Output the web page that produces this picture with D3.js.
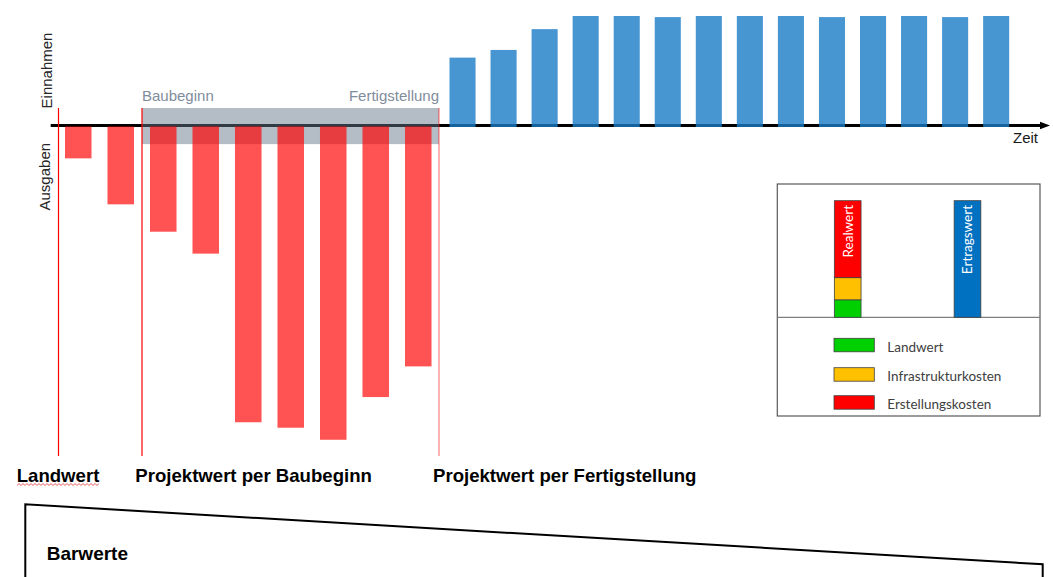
<!DOCTYPE html>
<html>
<head>
<meta charset="utf-8">
<script src="https://cdn.jsdelivr.net/npm/d3@7"></script>
<style>
  html, body { margin: 0; padding: 0; background: #fff; }
  svg { display: block; }
</style>
</head>
<body>
<svg id="chart" width="1053" height="577"></svg>
<script>
// Zahlungsströme je Periode: Ausgaben (Bauphase) und Einnahmen (Betriebsphase)
const ausgabenPerioden = ["A1", "A2", "A3", "A4", "A5", "A6", "A7", "A8", "A9"];
const ausgaben = [-30, -72, -97, -117, -271, -276, -287, -248, -220];

const einnahmenPerioden = ["E1", "E2", "E3", "E4", "E5", "E6", "E7", "E8", "E9", "E10", "E11", "E12", "E13", "E14"];
const einnahmen = [62, 69, 88, 100, 100, 99, 100, 100, 100, 99, 100, 100, 99, 100];

// Meilensteine (Periode, vor der die Markierung liegt)
const meilensteine = ["Baubeginn", "Fertigstellung"];
const wertLabels = ["Landwert", "Projektwert per Baubeginn", "Projektwert per Fertigstellung"];

// Legende: Zusammensetzung des Realwerts und Ertragswert
const legendeKategorien = ["Landwert", "Infrastrukturkosten", "Erstellungskosten"];
const legendeFarben = ["#00D000", "#FFC000", "#FF0000"];
const realwertAnteile = [15, 19, 66];
const balkenTitel = ["Realwert", "Ertragswert"];
const ertragswert = [100];

const FONT = "'Liberation Sans', Arial, sans-serif";
const FONT_LEG = "Lato, 'Open Sans', sans-serif";

const svg = d3.select("#chart");

// ---------- Skalen ----------
const xA = d3.scaleBand().domain(ausgabenPerioden).range([57, 439.5])
  .paddingInner(0.376).paddingOuter(0.188);
const xE = d3.scaleBand().domain(einnahmenPerioden).range([442, 1016.7])
  .paddingInner(0.365).paddingOuter(0.1825);
const y = d3.scaleLinear().domain([0, 100]).range([125.5, 16]);

const gapA = (xA.step() - xA.bandwidth()) / 2;
const xLandwert = xA(ausgabenPerioden[0]) - gapA + 1.5;
const xBaubeginn = xA(ausgabenPerioden[2]) - gapA;
const xFertig = xA.range()[1] - 0.5;

// ---------- Bauphase-Band (grau) ----------
svg.append("line")
  .attr("x1", 50.7).attr("x2", 1041)
  .attr("y1", y(0)).attr("y2", y(0))
  .attr("stroke", "#000").attr("stroke-width", 3);

svg.append("rect")
  .attr("x", xBaubeginn)
  .attr("y", y(16))
  .attr("width", xFertig - xBaubeginn)
  .attr("height", y(-17) - y(16))
  .attr("fill", "rgb(102,118,139)")
  .attr("fill-opacity", 0.49);

// ---------- Ausgaben ----------
svg.append("g").selectAll("rect")
  .data(ausgaben)
  .join("rect")
  .attr("x", (d, i) => xA(ausgabenPerioden[i]))
  .attr("y", y(0) + 1)
  .attr("width", xA.bandwidth())
  .attr("height", d => y(d) - y(0) - 1)
  .attr("fill", "#FF0000")
  .attr("fill-opacity", 0.68);

// ---------- Einnahmen ----------
svg.append("g").selectAll("rect")
  .data(einnahmen)
  .join("rect")
  .attr("x", (d, i) => xE(einnahmenPerioden[i]))
  .attr("y", d => y(d))
  .attr("width", xE.bandwidth())
  .attr("height", d => y(0) + 1.5 - y(d))
  .attr("fill", "rgb(25,124,199)")
  .attr("fill-opacity", 0.8);

// Pfeilspitze der Zeitachse
svg.append("path")
  .attr("d", `M1040,${y(0) - 3.8} L1050,${y(0)} L1040,${y(0) + 3.8} Z`)
  .attr("fill", "#000");

svg.append("text")
  .attr("x", 1013).attr("y", 142.7)
  .attr("font-family", FONT).attr("font-size", 15)
  .attr("fill", "#1a1a1a")
  .text("Zeit");

// ---------- Meilenstein-Linien ----------
const linien = [
  { x: xLandwert, op: 1 },
  { x: xBaubeginn, op: 1 },
  { x: xFertig, op: 0.5 }
];
svg.append("g").selectAll("line")
  .data(linien)
  .join("line")
  .attr("x1", d => d.x).attr("x2", d => d.x)
  .attr("y1", 108).attr("y2", 456)
  .attr("stroke", "#FF0000")
  .attr("stroke-opacity", d => d.op)
  .attr("stroke-width", 1.2);

// Meilenstein-Beschriftungen
svg.append("text")
  .attr("x", xBaubeginn).attr("y", 100.7)
  .attr("font-family", FONT).attr("font-size", 15)
  .attr("fill", "#7F8C9B")
  .text(meilensteine[0]);
svg.append("text")
  .attr("x", xFertig).attr("y", 100.7)
  .attr("text-anchor", "end")
  .attr("font-family", FONT).attr("font-size", 15)
  .attr("fill", "#7F8C9B")
  .text(meilensteine[1]);

// Achsenbeschriftungen (vertikal)
svg.append("text")
  .attr("transform", "translate(51.5,70.5) rotate(-90)")
  .attr("text-anchor", "middle")
  .attr("font-family", FONT).attr("font-size", 15)
  .attr("fill", "#262626")
  .text("Einnahmen");
svg.append("text")
  .attr("transform", "translate(50,176.7) rotate(-90)")
  .attr("text-anchor", "middle")
  .attr("font-family", FONT).attr("font-size", 15)
  .attr("fill", "#262626")
  .text("Ausgaben");

// ---------- Wert-Beschriftungen unten ----------
const wertX = [16.7, xBaubeginn - 6.7, xFertig - 6];
svg.append("g").selectAll("text")
  .data(wertLabels)
  .join("text")
  .attr("x", (d, i) => wertX[i])
  .attr("y", 482)
  .attr("font-family", FONT)
  .attr("font-weight", "bold")
  .attr("font-size", 18.6)
  .attr("fill", "#000")
  .text(d => d);

// Rechtschreib-Wellenlinie unter "Landwert"
const welle = d3.range(17, 100, 2).map((x, i) => [x, i % 2 ? 483.6 : 485.4]);
svg.append("path")
  .attr("d", d3.line()(welle))
  .attr("fill", "none")
  .attr("stroke", "#E23A3A")
  .attr("stroke-width", 0.8);

// ---------- Barwerte-Trapez ----------
svg.append("path")
  .attr("d", "M25.3,578 L25.3,504.3 L1042.7,564.3 L1042.7,578")
  .attr("fill", "none")
  .attr("stroke", "#000")
  .attr("stroke-width", 2);
svg.append("text")
  .attr("x", 46.7).attr("y", 559.5)
  .attr("font-family", FONT).attr("font-weight", "bold")
  .attr("font-size", 19)
  .attr("fill", "#000")
  .text("Barwerte");

// ---------- Legende ----------
const leg = svg.append("g");
leg.append("rect")
  .attr("x", 777.3).attr("y", 184)
  .attr("width", 1040 - 777.3).attr("height", 416 - 184)
  .attr("fill", "#fff")
  .attr("stroke", "#595959").attr("stroke-width", 1.2);
leg.append("line")
  .attr("x1", 777.3).attr("x2", 1040)
  .attr("y1", 317.3).attr("y2", 317.3)
  .attr("stroke", "#7F7F7F").attr("stroke-width", 1.2);

const xL = d3.scalePoint().domain(balkenTitel).range([847.7, 967.5]);
const yL = d3.scaleLinear().domain([0, 100]).range([317.3, 200.7]);
const bw = 26.7;

// Realwert gestapelt
const stapel = d3.cumsum(realwertAnteile);
leg.append("g").selectAll("rect")
  .data(realwertAnteile)
  .join("rect")
  .attr("x", xL(balkenTitel[0]) - bw / 2)
  .attr("y", (d, i) => yL(stapel[i]))
  .attr("width", bw)
  .attr("height", d => yL(0) - yL(d))
  .attr("fill", (d, i) => legendeFarben[i])
  .attr("stroke", "#404040").attr("stroke-width", 0.8);

// Ertragswert
leg.append("g").selectAll("rect")
  .data(ertragswert)
  .join("rect")
  .attr("x", xL(balkenTitel[1]) - bw / 2)
  .attr("y", d => yL(d))
  .attr("width", bw)
  .attr("height", d => yL(0) - yL(d))
  .attr("fill", "#0070C0")
  .attr("stroke", "#404040").attr("stroke-width", 0.8);

leg.append("g").selectAll("text")
  .data(balkenTitel)
  .join("text")
  .attr("transform", d => `translate(${xL(d) + 4.8},205) rotate(-90)`)
  .attr("text-anchor", "end")
  .attr("font-family", FONT_LEG).attr("font-size", 13.5)
  .attr("fill", "#fff")
  .text(d => d);

// Legendeneinträge
const legY = [338.3, 367.7, 395.7];
leg.append("g").selectAll("rect")
  .data(legendeKategorien)
  .join("rect")
  .attr("x", 834).attr("y", (d, i) => legY[i])
  .attr("width", 40.3).attr("height", 13.5)
  .attr("fill", (d, i) => legendeFarben[i])
  .attr("stroke", "#404040").attr("stroke-width", 0.8);
leg.append("g").selectAll("text")
  .data(legendeKategorien)
  .join("text")
  .attr("x", 887.3).attr("y", (d, i) => legY[i] + 13.3)
  .attr("font-family", FONT_LEG).attr("font-size", 13.5)
  .attr("fill", "#404040")
  .text(d => d);
</script>
</body>
</html>
